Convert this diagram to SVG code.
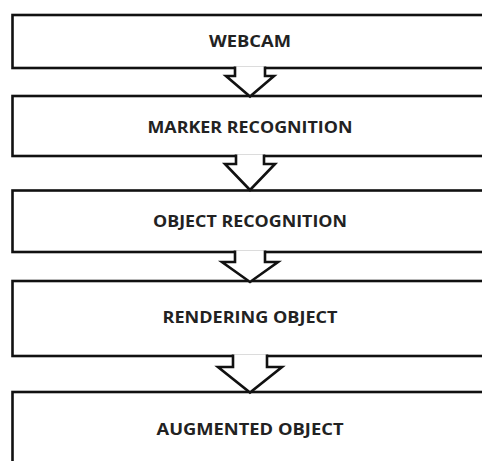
<svg xmlns="http://www.w3.org/2000/svg" width="482" height="461" viewBox="0 0 482 461">
<style>
.box{fill:#fff;stroke:#111;stroke-width:2.6}
.arr{fill:#fff;stroke:#111;stroke-width:2.6;stroke-linejoin:miter}
.lbl{font-family:"Open Sans","Liberation Sans",sans-serif;font-weight:bold;font-size:15.5px;fill:#222;text-anchor:middle}
</style>
<rect width="482" height="461" fill="#fff"/>
<g id="webcam"><rect class="box" x="12.5" y="15" width="480" height="53"/><text class="lbl" x="250" y="47" textLength="82" lengthAdjust="spacingAndGlyphs">WEBCAM</text></g>
<g id="marker"><rect class="box" x="12.5" y="96" width="480" height="60"/><text class="lbl" x="250" y="133" textLength="205" lengthAdjust="spacingAndGlyphs">MARKER RECOGNITION</text></g>
<g id="objectrec"><rect class="box" x="12.5" y="190.5" width="480" height="61.5"/><text class="lbl" x="250" y="227" textLength="194" lengthAdjust="spacingAndGlyphs">OBJECT RECOGNITION</text></g>
<g id="rendering"><rect class="box" x="12.5" y="281" width="480" height="75"/><text class="lbl" x="250" y="323" textLength="175" lengthAdjust="spacingAndGlyphs">RENDERING OBJECT</text></g>
<g id="augmented"><rect class="box" x="12.5" y="392" width="480" height="80"/><text class="lbl" x="250" y="435" textLength="187" lengthAdjust="spacingAndGlyphs">AUGMENTED OBJECT</text></g>
<g id="connectors">
<path class="arr" d="M235,66.5 V76 H226 L250,96.5 L274,76 H265 V66.5"/>
<path class="arr" d="M236,154.5 V164 H225 L250,190 L275,164 H264 V154.5"/>
<path class="arr" d="M235,250.5 V262 H222 L250,282 L278,262 H265 V250.5"/>
<path class="arr" d="M233,354.5 V367 H218 L250,392.5 L282,367 H267 V354.5"/>
</g>
</svg>
